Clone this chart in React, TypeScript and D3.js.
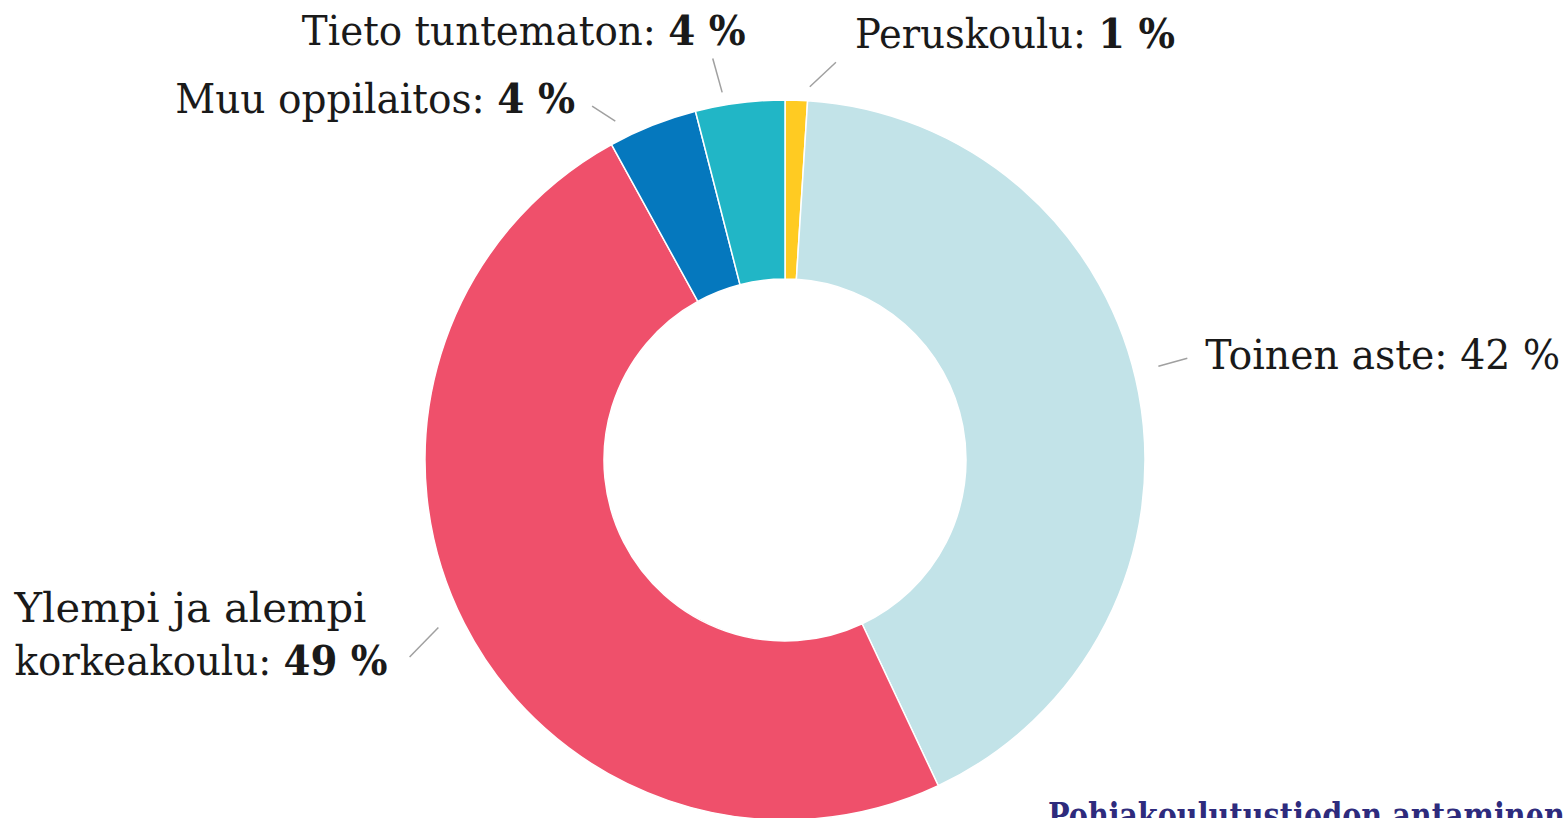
import { useEffect, useRef } from 'react';
import * as d3 from 'd3';

// data
const categories = ['Peruskoulu', 'Toinen aste', 'Ylempi ja alempi korkeakoulu', 'Muu oppilaitos', 'Tieto tuntematon'];
const shares = [1, 42, 49, 4, 4];
const colors = ['#ffcb22', '#c2e3e8', '#ef506b', '#0578be', '#21b6c6'];
const boldValue = [true, false, true, true, true];
const labelLines = [['Peruskoulu:'], ['Toinen aste:'], ['Ylempi ja alempi', 'korkeakoulu:'], ['Muu oppilaitos:'], ['Tieto tuntematon:']];
const footer = 'Pohjakoulutustiedon antaminen';

// label placement (connector nudges in degrees, radii, text offsets from connector end, target widths)
const labelLayout = [
  { n0: 2.0,  r0: 374, n1: 5.5,  r1: 401, dx: 19,   dy: -14, anchor: 'start', widths: [320] },
  { n0: -3.3, r0: 385, n1: -3.4, r1: 415, dx: 18,   dy: 11,  anchor: 'start', widths: [355] },
  { n0: 1.2,  r0: 385, n1: -0.7, r1: 424, dx: -395, dy: -35, anchor: 'start', widths: [353, 373] },
  { n0: -5.0, r0: 379, n1: -7.0, r1: 403, dx: -17,  dy: 7,   anchor: 'end',   widths: [400] },
  { n0: -2.5, r0: 373, n1: -3.0, r1: 408, dx: 33,   dy: -13, anchor: 'end',   widths: [444] },
];

export default function App() {
  const ref = useRef<SVGSVGElement>(null);

  useEffect(() => {
    const W = 1568, H = 818;
    const cx = 785, cy = 460, R = 360, r = 181;
    const font = '"DejaVu Serif", serif';

    const svg = d3.select(ref.current);
    svg.selectAll('*').remove();
    svg.attr('width', W).attr('height', H);

    const data = categories.map((c, i) => ({ name: c, value: shares[i], i }));
    const pie = d3.pie<any>().value(d => d.value).sort(null).startAngle(0).endAngle(2 * Math.PI);
    const arc = d3.arc<any>().innerRadius(r).outerRadius(R);
    const arcs = pie(data);

    const g = svg.append('g').attr('transform', `translate(${cx},${cy})`);
    g.selectAll('path').data(arcs).enter().append('path')
      .attr('d', arc)
      .attr('fill', d => colors[d.data.i])
      .attr('stroke', '#fff').attr('stroke-width', 1.5).attr('stroke-linejoin', 'round');

    const polar = (deg: number, rad: number) => {
      const a = deg * Math.PI / 180;
      return [Math.sin(a) * rad, -Math.cos(a) * rad];
    };

    // squeeze a text horizontally to the wanted width (DejaVu runs wider than the original slab face)
    const fit = (parent: any, x: number, y: number, target: number) => {
      const wrap = parent.append('g');
      const text = wrap.append('text');
      return {
        text,
        done: () => {
          const w = (text.node() as SVGTextElement).getBBox().width || target;
          wrap.attr('transform', `translate(${x},${y}) scale(${target / w},1)`);
        },
      };
    };

    arcs.forEach(d => {
      const i = d.data.i;
      const L = labelLayout[i];
      const mid = ((d.startAngle + d.endAngle) / 2) * 180 / Math.PI;
      const [x0, y0] = polar(mid + L.n0, L.r0);
      const [x1, y1] = polar(mid + L.n1, L.r1);
      g.append('line')
        .attr('x1', x0).attr('y1', y0).attr('x2', x1).attr('y2', y1)
        .attr('stroke', '#a0a0a0').attr('stroke-width', 1.5);

      const lines = labelLines[i];
      lines.forEach((t, k) => {
        const last = k === lines.length - 1;
        const f = fit(g, x1 + L.dx, y1 + L.dy + k * 53, L.widths[k]);
        f.text
          .attr('text-anchor', L.anchor)
          .attr('font-family', font).attr('font-size', 41).attr('fill', '#1a1a1a');
        f.text.append('tspan').text(last ? t + ' ' : t);
        if (last) {
          f.text.append('tspan')
            .attr('font-weight', boldValue[i] ? 700 : 400)
            .text(`${d.data.value}\u00a0%`);
        }
        f.done();
      });
    });

    const ft = fit(svg, 1048, 828, 517);
    ft.text
      .attr('font-family', font).attr('font-weight', 700).attr('font-size', 36)
      .attr('fill', '#2e2b7d')
      .text(footer);
    ft.done();
  }, []);

  return (
    <div style={{ position: 'absolute', left: 0, top: 0, width: 1568, height: 818, overflow: 'hidden', background: '#fff' }}>
      <svg ref={ref} style={{ display: 'block' }} />
    </div>
  );
}
